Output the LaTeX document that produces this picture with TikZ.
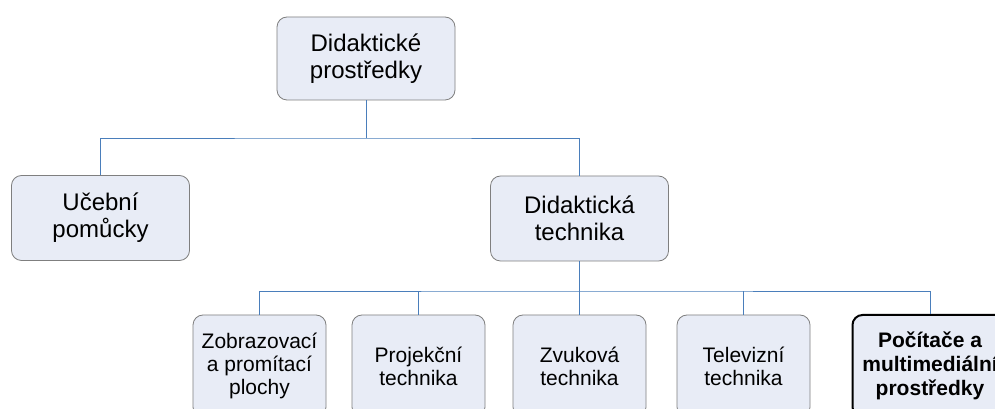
\documentclass[tikz,border=0pt]{standalone}
\usepackage{fontspec}
\setmainfont{Liberation Sans}
\definecolor{boxfill}{HTML}{E8ECF6}
\definecolor{boxline}{HTML}{7F7F7F}
\definecolor{linkblue}{HTML}{4A7EBB}
\begin{document}
\begin{tikzpicture}[x=1pt,y=1pt,
  box/.style={draw=boxline, line width=0.8pt, fill=boxfill, rounded corners=10pt,
    align=center, inner sep=0pt},
  bigbox/.style={box, minimum width=178pt, minimum height=85pt,
    font=\fontsize{24}{27}\selectfont},
  smallbox/.style={box, minimum width=133pt, minimum height=102pt,
    font=\fontsize{21}{23}\selectfont},
  keybox/.style={smallbox, draw=black, line width=2pt, minimum width=155pt,
    font=\fontsize{21}{24}\selectfont\bfseries},
  link/.style={draw=linkblue, line width=0.9pt}]
\useasboundingbox (0,0) rectangle (995,409);
\fill[white] (0,0) rectangle (995,409);

% bus lines
\coordinate (busA) at (0,271);
\coordinate (busB) at (0,118);

% top level
\node[bigbox, minimum height=83pt] (root) at (366,350.5) {Didaktické\\prostředky};

% second level
\node[bigbox] (ucebni) at (100.5,191) {Učební\\pomůcky};
\node[bigbox] (technika) at (579.5,190.5) {Didaktická\\technika};

% third level
\node[smallbox] (zobraz) at (259.5,43) {Zobrazovací\\a promítací\\plochy};
\node[smallbox] (projek) at (418.5,43) {Projekční\\technika};
\node[smallbox] (zvuk) at (579.5,43) {Zvuková\\technika};
\node[smallbox] (telev) at (743.5,43) {Televizní\\technika};
\node[keybox] (pocit) at (930,43) {Počítače a\\multimediální\\prostředky};

% connectors
\draw[link] (root.south) -- (root.south |- busA);
\draw[link] (ucebni.north) |- (root.south |- busA) -| (technika.north);

\draw[link] (technika.south) -- (technika.south |- busB);
\draw[link] (zobraz.north) |- (technika.south |- busB) -| (pocit.north);
\draw[link] (projek.north) -- (projek.north |- busB);
\draw[link] (zvuk.north) -- (zvuk.north |- busB);
\draw[link] (telev.north) -- (telev.north |- busB);
\end{tikzpicture}
\end{document}
